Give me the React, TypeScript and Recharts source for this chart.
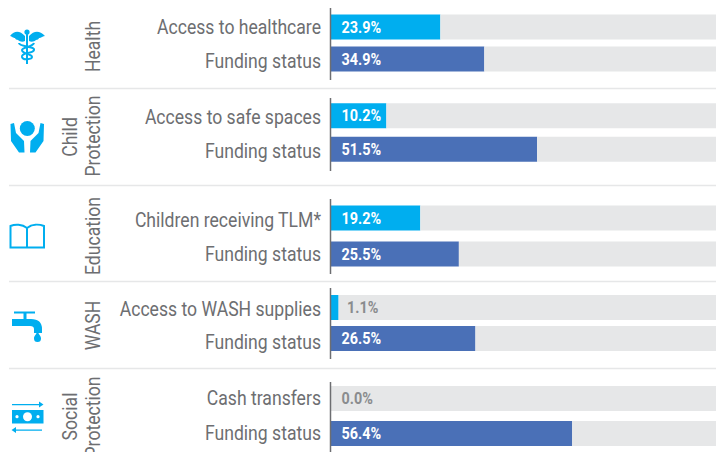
import React from 'react';
import { BarChart, Bar, Cell, LabelList, XAxis, YAxis } from 'recharts';

const FONT = 'Roboto, sans-serif';
const CYAN = '#00aeef';
const BLUE = '#4a70b7';
const TRACK = '#e6e7e8';
const GREY = '#6d6e71';
const AXIS_X = 330.5;
const SQUEEZE = 0.88; // no condensed face installed, so the text is narrowed by hand

// Row names and the figures printed on the bars, per sector
const healthRows = ['Access to healthcare', 'Funding status'];
const healthPrinted = ['23.9%', '34.9%'];
const childRows = ['Access to safe spaces', 'Funding status'];
const childPrinted = ['10.2%', '51.5%'];
const educationRows = ['Children receiving TLM*', 'Funding status'];
const educationPrinted = ['19.2%', '25.5%'];
const washRows = ['Access to WASH supplies', 'Funding status'];
const washPrinted = ['1.1%', '26.5%'];
const socialRows = ['Cash transfers', 'Funding status'];
const socialPrinted = ['0.0%', '56.4%'];

// Drawn bar length as a share of the grey track.
// The source does not draw its bars in proportion to the printed figures.
const healthLengths = [28.5, 39.9];
const childLengths = [14.5, 53.6];
const educationLengths = [23.3, 33.3];
const washLengths = [2.1, 37.6];
const socialLengths = [0, 62.7];

const rowColors = [CYAN, BLUE];

const buildRows = (names: string[], printed: string[], lengths: number[]) =>
  names.map((name, i) => ({ name, printed: printed[i], length: lengths[i], rest: 100 - lengths[i] }));

// sits on the grey remainder bar, so x is where the coloured bar ends
const BarValue = ({ x, y, height, value }: any) => {
  const inside = x - AXIS_X > 40;
  const textX = inside ? AXIS_X + 11 : Math.max(AXIS_X + 11, x + 8.5);
  return (
    <text
      transform={`translate(${textX},${y + height / 2 + 5.5}) scale(0.9,1)`}
      fill={inside ? '#ffffff' : '#8a8c8e'}
      fontFamily={FONT}
      fontWeight="bold"
      fontSize={16}
    >
      {value}
    </text>
  );
};

const Group = ({ top, bottom, centers, rows, nudges }: {
  top: number;
  bottom: number;
  centers: number[];
  rows: { name: string; printed: string; length: number; rest: number }[];
  nudges: number[]; // the row names do not sit exactly level with their bars
}) => {
  const band = centers[1] - centers[0];
  return (
    <div style={{ position: 'absolute', left: 0, top }}>
      <BarChart
        width={716}
        height={bottom - top}
        layout="vertical"
        data={rows}
        margin={{ top: 0, right: 0, bottom: 0, left: 0 }}
      >
        <XAxis type="number" domain={[0, 100]} hide />
        <YAxis
          type="category"
          dataKey="name"
          width={AXIS_X}
          interval={0}
          tickLine={false}
          tickSize={0}
          tickMargin={9.5}
          axisLine={{ stroke: GREY, strokeWidth: 1.5 }}
          tick={({ x, y, payload, index }: any) => (
            <text
              transform={`translate(${x},${y + 6.5 + nudges[index]}) scale(${SQUEEZE},1)`}
              textAnchor="end"
              fill={GREY}
              fontFamily={FONT}
              fontSize={20}
            >
              {payload.value}
            </text>
          )}
          padding={{
            top: centers[0] - band / 2 - top,
            bottom: bottom - centers[1] - band / 2,
          }}
        />
        <Bar dataKey="length" stackId="row" barSize={25} isAnimationActive={false}>
          {rows.map((_, i) => (
            <Cell key={i} fill={rowColors[i]} />
          ))}
        </Bar>
        <Bar dataKey="rest" stackId="row" barSize={25} fill={TRACK} isAnimationActive={false}>
          <LabelList dataKey="printed" content={<BarValue />} />
        </Bar>
      </BarChart>
    </div>
  );
};

const SideText = ({ x, y, children }: { x: number; y: number; children: string }) => (
  <text
    transform={`translate(${x},${y}) rotate(-90) scale(${SQUEEZE},1)`}
    textAnchor="middle"
    fill={GREY}
    fontFamily={FONT}
    fontSize={20}
  >
    {children}
  </text>
);

const Overlay = () => (
  <svg width={716} height={452} style={{ position: 'absolute', left: 0, top: 0, pointerEvents: 'none' }}>
    {/* separators */}
    {[88.5, 185.5, 281.5, 368.5].map((y) => (
      <line key={y} x1={9} x2={716} y1={y} y2={y} stroke={TRACK} strokeWidth={1.5} />
    ))}

    <SideText x={100} y={46.5}>Health</SideText>
    <SideText x={77} y={137}>Child</SideText>
    <SideText x={100} y={136}>Protection</SideText>
    <SideText x={100} y={236}>Education</SideText>
    <SideText x={100} y={325.5}>WASH</SideText>
    <SideText x={77} y={416.5}>Social</SideText>
    <SideText x={100} y={417}>Protection</SideText>

    {/* caduceus */}
    <g fill={CYAN} stroke="none">
      <circle cx={27} cy={32} r={2.6} />
      <rect x={26} y={32} width={2} height={32} />
      <path d="M25,36 C20,31 15,30 10,36 C13,37 13,38 15,38 C15,39 17,40 18,40 C20,42 23,42 25,41 Z" />
      <path d="M29,36 C34,31 39,30 45,36 C41,37 41,38 39,38 C39,39 37,40 36,40 C34,42 31,42 29,41 Z" />
    </g>
    <path
      d="M19,43 C19,47 35,46 34,50 C33,54 21,52 22,57 C23,61 32,59 32,57 C32,54 22,54 22,50 C22,47 33,47 34,43"
      fill="none"
      stroke={CYAN}
      strokeWidth={2}
    />

    {/* hands */}
    <g fill={CYAN}>
      <circle cx={27.3} cy={128.5} r={7.5} />
      <path d="M10.5,124 L14,123 L16,133 L24,141 L24.5,152.5 L19,152.5 L11,141 Z" />
      <path d="M44,124 L40.5,123 L38.5,133 L30.5,141 L30,152.5 L35.5,152.5 L43.5,141 Z" />
    </g>

    {/* book */}
    <path
      d="M27,228 C22,224 15,224 10.5,226 L10.5,247.5 L44,247.5 L44,226 C39,224 32,224 27,228 L27,247"
      fill="none"
      stroke={CYAN}
      strokeWidth={2}
    />

    {/* tap */}
    <g fill={CYAN}>
      <rect x={14} y={311.5} width={21} height={2} />
      <rect x={23.5} y={312} width={3} height={7} />
      <path d="M12,319 L31,319 Q42,319 42,329 L42,333 L34,333 L34,329 Q34,326 30,326 L12,326 Z" />
      <path d="M37.5,331 C39,335 41,336 41,338.5 A3.5,3.5 0 0 1 34,338.5 C34,336 36,335 37.5,331 Z" />
    </g>

    {/* cash */}
    <g fill={CYAN}>
      <rect x={12} y={410} width={31.5} height={13.5} />
      <path d="M12,404 L39,404 L39,401.5 L43.5,404.5 L39,407.5 L39,405.2 L12,405.2 Z" />
      <path d="M42,429.5 L16,429.5 L16,427 L11.5,430 L16,433 L16,430.8 L42,430.8 Z" />
    </g>
    <g fill="#ffffff">
      <circle cx={27.5} cy={416.7} r={4.5} />
      <circle cx={17} cy={416.7} r={1.6} />
      <circle cx={38} cy={416.7} r={1.6} />
    </g>
  </svg>
);

const App = () => (
  <div style={{ position: 'absolute', left: 0, top: 0, width: 716, height: 452, overflow: 'hidden', background: '#fff' }}>
    <Group top={8} bottom={80} centers={[26.5, 58.5]} nudges={[1, 3]} rows={buildRows(healthRows, healthPrinted, healthLengths)} />
    <Group top={98} bottom={171} centers={[116, 149.5]} nudges={[1, 1.5]} rows={buildRows(childRows, childPrinted, childLengths)} />
    <Group top={199} bottom={274} centers={[217.5, 253.5]} nudges={[3, 1]} rows={buildRows(educationRows, educationPrinted, educationLengths)} />
    <Group top={288} bottom={359} centers={[307.5, 338.5]} nudges={[2, 3.5]} rows={buildRows(washRows, washPrinted, washLengths)} />
    <Group top={382} bottom={452} centers={[398.5, 433.5]} nudges={[0, 0]} rows={buildRows(socialRows, socialPrinted, socialLengths)} />
    <Overlay />
  </div>
);

export default App;
